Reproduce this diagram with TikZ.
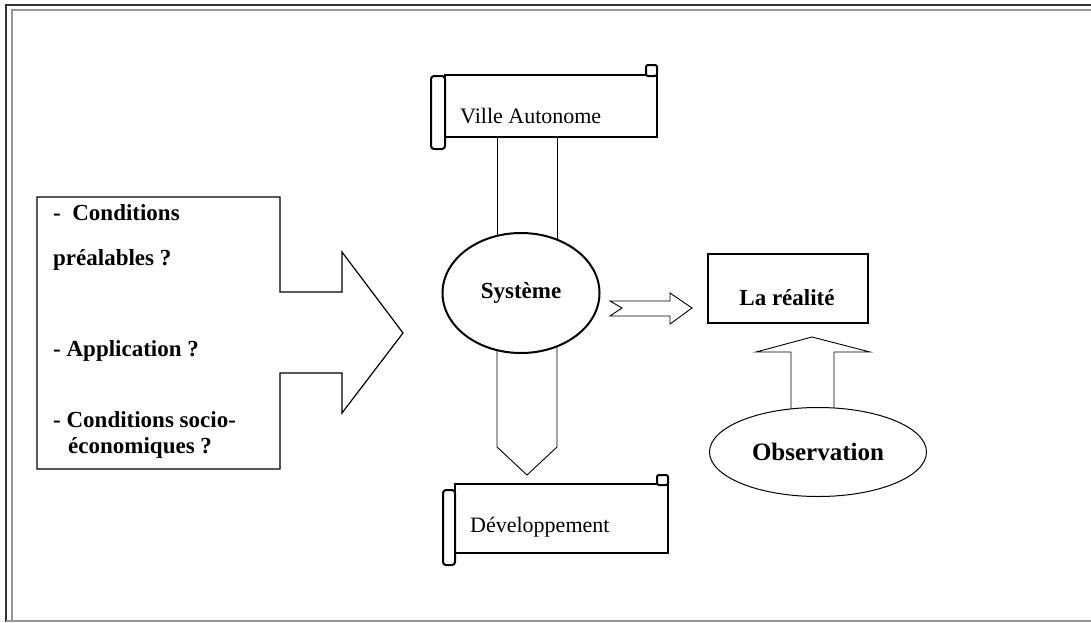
\documentclass[tikz,border=0pt]{standalone}
\usepackage{fontspec}
\setmainfont{Liberation Serif}
\usetikzlibrary{shapes.geometric,calc}
\definecolor{frameout}{RGB}{50,50,50}
\definecolor{framein}{RGB}{150,150,150}
\tikzset{
  scrollbox/.style={draw, line width=2.4pt, fill=white, minimum width=212pt,
              minimum height=62pt, inner sep=0pt},
  roll/.style={draw, line width=2pt, fill=white, rounded corners=3pt},
  curl/.style={draw, line width=2pt, fill=white, rounded corners=2pt},
  txt/.style={font=\fontsize{22}{26}\selectfont, inner sep=0pt},
  btxt/.style={font=\fontsize{23}{27}\selectfont\bfseries, inner sep=0pt, anchor=west},
  hollow/.style={draw, line width=0.9pt, fill=white, line join=miter},
}

\begin{document}
\begin{tikzpicture}[x=1pt,y=-1pt]
    \useasboundingbox (0,0) rectangle (1091,622);
    % frame
    \draw[frameout, line width=2pt] (6,622) -- (6,5) -- (1091,5);
    \draw[framein, line width=1.5pt] (12,622) -- (12,10) -- (1091,10);
    \draw[framein, line width=1.5pt] (6,621) -- (1091,621);
    % question box with its arrow
    \draw[hollow, line width=1.2pt] (37,197) -- (280,197) -- (280,292) -- (342,292) -- (342,252) -- (403,333)
      -- (342,413) -- (342,373) -- (280,373) -- (280,469) -- (37,469) -- cycle;
    \node[btxt] (q1) at (53,213) {-~~Conditions};
    \node[btxt] (q2) at (53,260) {préalables ?};
    \node[btxt] (q3) at (53,351) {- Application ?};
    \node[btxt] (q4) at (53,420) {- Conditions socio-};
    \node[btxt] (q5) at (68,448) {économiques ?};
    % centre column
    \node[scrollbox] (ville) at (551,106) {};
    \node[scrollbox, minimum width=213pt, minimum height=69pt] (dev) at (561.5,518.5) {};
    \draw[hollow] (ville.south -| 497,0) -- (497,260);
    \draw[hollow] (ville.south -| 557,0) -- (557,260);
    \draw[hollow] (497,320) -- (497,447) -- (527,475) -- (557,447) -- (557,320);
    \node[ellipse, draw, line width=2pt, fill=white, minimum width=157pt, minimum height=120pt,
          inner sep=0pt, font=\fontsize{23}{27}\selectfont\bfseries] (sys) at (521,293) {Système};
    \draw[roll] (431,76) rectangle (445,149);
    \draw[curl] (646,65) rectangle (657,76);
    \draw[roll] (443,490) rectangle (455,565);
    \draw[curl] (657,475) rectangle (668,485);
    \node[txt, anchor=west] (villetxt) at (460,116) {Ville Autonome};
    \node[txt, anchor=west] (devtxt) at (470,527) {Développement};
    % right side
    \draw[hollow] (610,301) -- (670,301) -- (670,293) -- (692,308)
      -- (670,324) -- (670,316) -- (610,316) -- (622,308) -- cycle;
    \node[draw, line width=2pt, minimum width=160pt, minimum height=69pt, inner sep=0pt] (real) at (788,288) {};
    \node[btxt, anchor=center] (realtxt) at (787,298) {La réalité};
    \draw[hollow] (791,420) -- (791,352) -- (756,352) -- (812,337) -- (870,352) -- (834,352) -- (834,420);
    \node[ellipse, draw, line width=1pt, fill=white, minimum width=217pt, minimum height=89pt,
          inner sep=0pt, font=\fontsize{25}{28}\selectfont\bfseries] (obs) at (818,452) {Observation};
\end{tikzpicture}
\end{document}
